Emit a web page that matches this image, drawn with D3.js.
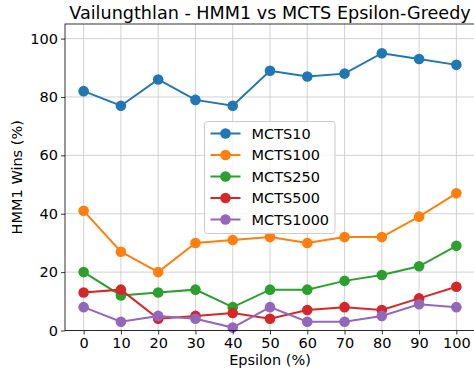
<!DOCTYPE html>
<html>
<head>
<meta charset="utf-8">
<script src="https://cdn.jsdelivr.net/npm/d3@7"></script>
<style>
  html, body { margin: 0; padding: 0; background: #fff; }
  svg { display: block; font-family: "DejaVu Sans", sans-serif; }
</style>
</head>
<body>
<svg id="chart" width="474" height="377"></svg>
<script>
// Epsilon values (%) on the x axis
const epsilon = [0, 10, 20, 30, 40, 50, 60, 70, 80, 90, 100];

// HMM1 win rate (%) against each MCTS opponent
const mcts10   = [82, 77, 86, 79, 77, 89, 87, 88, 95, 93, 91];
const mcts100  = [41, 27, 20, 30, 31, 32, 30, 32, 32, 39, 47];
const mcts250  = [20, 12, 13, 14, 8, 14, 14, 17, 19, 22, 29];
const mcts500  = [13, 14, 4, 5, 6, 4, 7, 8, 7, 11, 15];
const mcts1000 = [8, 3, 5, 4, 1, 8, 3, 3, 5, 9, 8];

const seriesNames = ["MCTS10", "MCTS100", "MCTS250", "MCTS500", "MCTS1000"];
const seriesValues = [mcts10, mcts100, mcts250, mcts500, mcts1000];
const colors = ["#1f77b4", "#ff7f0e", "#2ca02c", "#d62728", "#9467bd"];

const xTicks = [0, 10, 20, 30, 40, 50, 60, 70, 80, 90, 100];
const yTicks = [0, 20, 40, 60, 80, 100];

const svg = d3.select("#chart");
const plot = { left: 65, right: 475, top: 24, bottom: 330.5 };

const x = d3.scaleLinear().domain([-5, 105]).range([plot.left, plot.right]);
const y = d3.scaleLinear().domain([0, 105]).range([plot.bottom, plot.top]);

// grid
const grid = svg.append("g").attr("stroke", "#b0b0b0").attr("stroke-width", 0.8).attr("opacity", 0.7);
grid.selectAll("line.gx").data(xTicks).join("line")
  .attr("x1", d => x(d)).attr("x2", d => x(d))
  .attr("y1", plot.top).attr("y2", plot.bottom);
grid.selectAll("line.gy").data(yTicks).join("line")
  .attr("y1", d => y(d)).attr("y2", d => y(d))
  .attr("x1", plot.left).attr("x2", plot.right);

// series
const lineGen = d3.line().x((d, i) => x(epsilon[i])).y(d => y(d));
seriesValues.forEach((vals, k) => {
  const g = svg.append("g");
  g.append("path").datum(vals)
    .attr("d", lineGen)
    .attr("fill", "none")
    .attr("stroke", colors[k])
    .attr("stroke-width", 2);
  g.selectAll("circle").data(vals).join("circle")
    .attr("cx", (d, i) => x(epsilon[i]))
    .attr("cy", d => y(d))
    .attr("r", 5.3)
    .attr("fill", colors[k]);
});

// axes
const xAxis = d3.axisBottom(x).tickValues(xTicks).tickSize(4).tickPadding(3);
const yAxis = d3.axisLeft(y).tickValues(yTicks).tickSize(4).tickPadding(3);

const gx = svg.append("g").attr("transform", `translate(0,${plot.bottom})`).call(xAxis);
const gy = svg.append("g").attr("transform", `translate(${plot.left},0)`).call(yAxis);
[gx, gy].forEach(g => {
  g.select(".domain").remove();
  g.selectAll("text").attr("font-size", 14.5).attr("fill", "#000").attr("font-family", "DejaVu Sans");
  g.selectAll("line").attr("stroke", "#000").attr("stroke-width", 0.8);
});

// frame
svg.append("rect")
  .attr("x", plot.left).attr("y", plot.top)
  .attr("width", plot.right - plot.left).attr("height", plot.bottom - plot.top)
  .attr("fill", "none").attr("stroke", "#000").attr("stroke-width", 0.8);

// title and axis labels
svg.append("text")
  .attr("x", (plot.left + plot.right) / 2).attr("y", 18.5)
  .attr("text-anchor", "middle").attr("font-size", 17.6)
  .text("Vailungthlan - HMM1 vs MCTS Epsilon-Greedy");

svg.append("text")
  .attr("x", (plot.left + plot.right) / 2).attr("y", 365)
  .attr("text-anchor", "middle").attr("font-size", 14.5)
  .text("Epsilon (%)");

svg.append("text")
  .attr("transform", `translate(22,${(plot.top + plot.bottom) / 2}) rotate(-90)`)
  .attr("text-anchor", "middle").attr("font-size", 14.5)
  .text("HMM1 Wins (%)");

// legend
const legend = svg.append("g").attr("transform", "translate(204.5,121.5)");
legend.append("rect")
  .attr("width", 130.5).attr("height", 112).attr("rx", 3)
  .attr("fill", "#fff").attr("fill-opacity", 0.8)
  .attr("stroke", "#ccc").attr("stroke-width", 1);
seriesNames.forEach((name, k) => {
  const cy = 12 + k * 21.5;
  legend.append("line")
    .attr("x1", 6).attr("x2", 36).attr("y1", cy).attr("y2", cy)
    .attr("stroke", colors[k]).attr("stroke-width", 2);
  legend.append("circle").attr("cx", 21).attr("cy", cy).attr("r", 5.3).attr("fill", colors[k]);
  legend.append("text")
    .attr("x", 47).attr("y", cy + 5.2)
    .attr("font-size", 14.5)
    .text(name);
});
</script>
</body>
</html>
